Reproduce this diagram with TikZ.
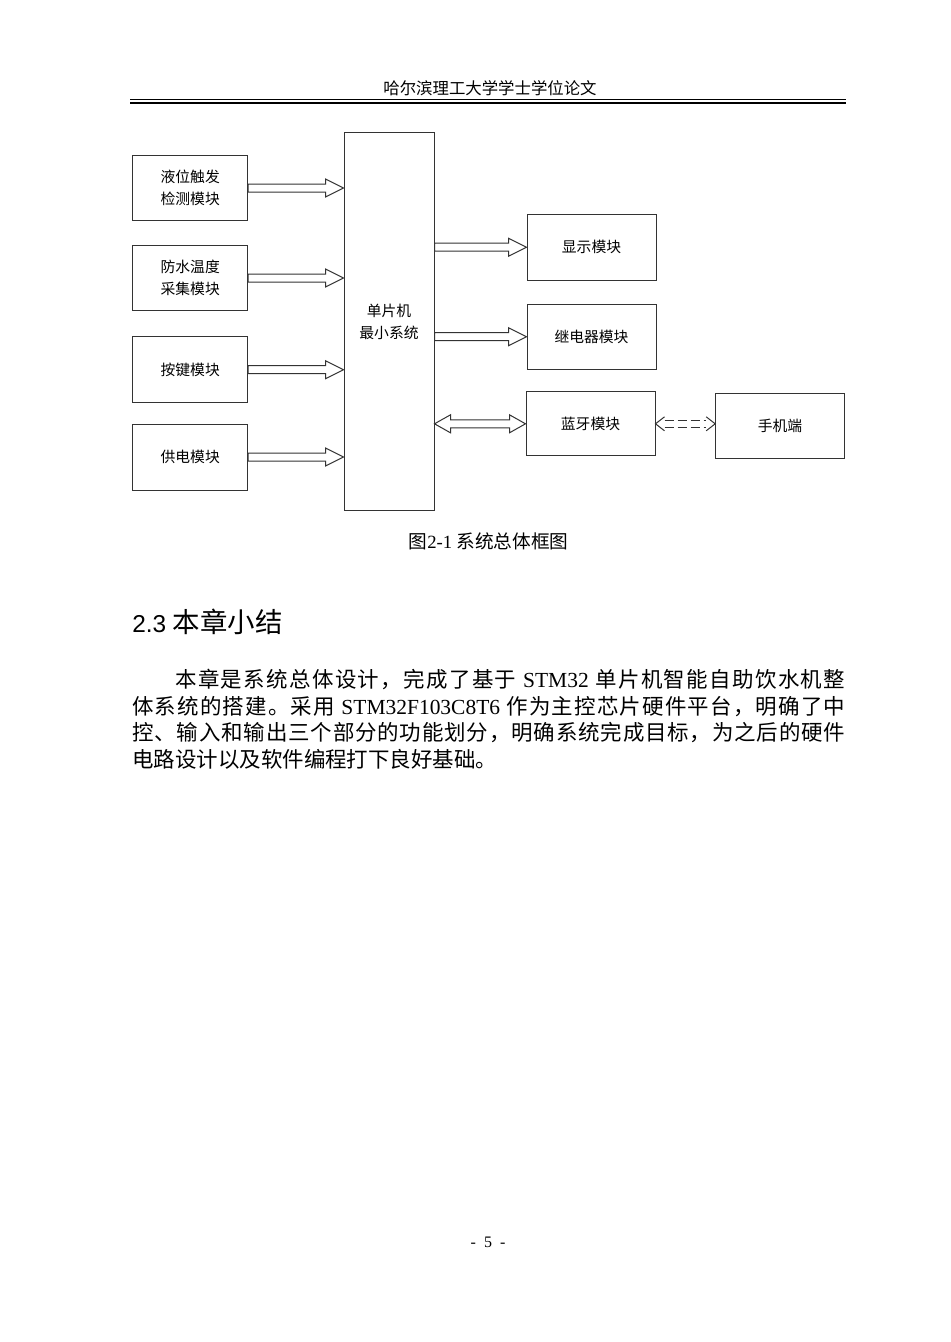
\documentclass[tikz,border=0pt]{standalone}
\usepackage{fontspec}
\setmainfont{Liberation Serif}
\newfontfamily\cjkf{Noto Sans CJK SC}
\newfontfamily\arialf{Liberation Sans}
\usetikzlibrary{calc}
\newdimen\upx \upx=0.75pt
\newcommand\lat{\rmfamily}
\makeatletter
\def\spendmark{SPENDMARKXYZ}
\def\jl@first#1{#1\jl@rest}
\def\jl@rest#1{\ifx\spendmark#1\else\hskip0pt plus 1fil\relax{#1}\expandafter\jl@rest\fi}
\newcommand\jline[1]{\jl@first#1\spendmark}
\makeatother
\newcommand\boxfont{\cjkf\fontsize{11.1pt}{16.5pt}\selectfont}
\newcommand\bodyfont{\cjkf\fontsize{16.1pt}{20pt}\selectfont}
\newcommand\barr[2]{\draw[barrow] ($#1+(0,-4)$) -- ($#2+(-18,-4)$) -- ($#2+(-18,-9)$) -- #2 -- ($#2+(-18,9)$) -- ($#2+(-18,4)$) -- ($#1+(0,4)$) -- cycle;}
\begin{document}
\begin{tikzpicture}[x=0.75pt,y=-0.75pt,
  box/.style={draw=black!80, line width=0.75pt, inner sep=0pt, font=\boxfont, align=center},
  barrow/.style={draw=black!80, line width=0.75pt, fill=white, line join=miter},
  txt/.style={inner sep=0pt}]
\fill[white] (0,0) rectangle (950,1342);
\useasboundingbox (0,0) rectangle (950,1342);
% header
\node[txt] (hdr) at (490,88) {\cjkf\fontsize{12.3pt}{14pt}\selectfont 哈尔滨理工大学学士学位论文};
\coordinate (hl) at (130,99.7);
\coordinate (hr) at (845.7,99.7);
\draw[line width=1.3*\upx] (hl) -- (hr);
\draw[line width=2.6*\upx] ($(hl)+(0,3.3)$) -- ($(hr)+(0,3.3)$);
% boxes
\node[box, minimum width=115*\upx, minimum height=65.7*\upx] (in1) at (190.2,188) {液位触发\\检测模块};
\node[box, minimum width=115*\upx, minimum height=65.7*\upx] (in2) at (190.2,278) {防水温度\\采集模块};
\node[box, minimum width=115*\upx, minimum height=66*\upx] (in3) at (190.2,369.7) {按键模块};
\node[box, minimum width=115*\upx, minimum height=66*\upx] (in4) at (190.2,457) {供电模块};
\node[box, minimum width=90*\upx, minimum height=378*\upx] (mcu) at (389,321.7) {单片机\\最小系统};
\node[box, minimum width=129*\upx, minimum height=65.7*\upx] (disp) at (591.5,247.2) {显示模块};
\node[box, minimum width=129*\upx, minimum height=65.3*\upx] (relay) at (591.5,336.7) {继电器模块};
\node[box, minimum width=129*\upx, minimum height=64.3*\upx] (bt) at (590.5,423.8) {蓝牙模块};
\node[box, minimum width=128.6*\upx, minimum height=65*\upx] (phone) at (780,425.8) {手机端};
% block arrows
\barr{(in1.east)}{(mcu.west |- in1.east)}
\barr{(in2.east)}{(mcu.west |- in2.east)}
\barr{(in3.east)}{(mcu.west |- in3.east)}
\barr{(in4.east)}{(mcu.west |- in4.east)}
\barr{(mcu.east |- disp.west)}{(disp.west)}
\barr{(mcu.east |- relay.west)}{(relay.west)}
\coordinate (ba) at (mcu.east |- bt.west);
\draw[barrow] (ba) -- ($(ba)+(16,-9)$) -- ($(ba)+(16,-4)$) -- ($(bt.west)+(-16,-4)$) -- ($(bt.west)+(-16,-9)$) -- (bt.west) -- ($(bt.west)+(-16,9)$) -- ($(bt.west)+(-16,4)$) -- ($(ba)+(16,4)$) -- ($(ba)+(16,9)$) -- cycle;
% dashed double arrow
\coordinate (pa) at (phone.west |- bt.east);
\draw[black!80, line width=0.75pt] ($(bt.east)+(9,-7)$) -- (bt.east) -- ($(bt.east)+(9,7)$);
\draw[black!80, line width=0.75pt] ($(pa)+(-9,-7)$) -- (pa) -- ($(pa)+(-9,7)$);
\draw[black!80, line width=0.75pt, dash pattern=on 9\upx off 4\upx] ($(bt.east)+(9,-3.5)$) -- ($(pa)+(-9,-3.5)$);
\draw[black!80, line width=0.75pt, dash pattern=on 9\upx off 4\upx] ($(bt.east)+(9,3.5)$) -- ($(pa)+(-9,3.5)$);
% caption
\node[txt] (cap) at (488.5,541) {\cjkf\fontsize{14pt}{16pt}\selectfont 图{\lat 2-1} 系统总体框图};
% heading
\node[txt, anchor=west] (head) at (132,621.5) {\arialf\fontsize{18.3pt}{22pt}\selectfont 2.3 {\cjkf\fontsize{20.6pt}{24pt}\selectfont 本章小结}};
% body
\node[txt, anchor=west] (l1) at (132,679.5) {\bodyfont\hbox to 713\upx{\hskip 43\upx\jline{本章是系统总体设计，完成了基于{\lat\ STM32\ }单片机智能自助饮水机整}}};
\node[txt, anchor=west] (l2) at (132,706.2) {\bodyfont\hbox to 713\upx{\jline{体系统的搭建。采用{\lat\ STM32F103C8T6\ }作为主控芯片硬件平台，明确了中}}};
\node[txt, anchor=west] (l3) at (132,732.9) {\bodyfont\hbox to 713\upx{\jline{控、输入和输出三个部分的功能划分，明确系统完成目标，为之后的硬件}}};
\node[txt, anchor=west] (l4) at (132,759.6) {\bodyfont 电路设计以及软件编程打下良好基础。};
% page number
\node[txt] (pg) at (488,1242) {\fontsize{12pt}{14pt}\selectfont -\hspace{8\upx}5\hspace{8\upx}-};
\end{tikzpicture}
\end{document}
